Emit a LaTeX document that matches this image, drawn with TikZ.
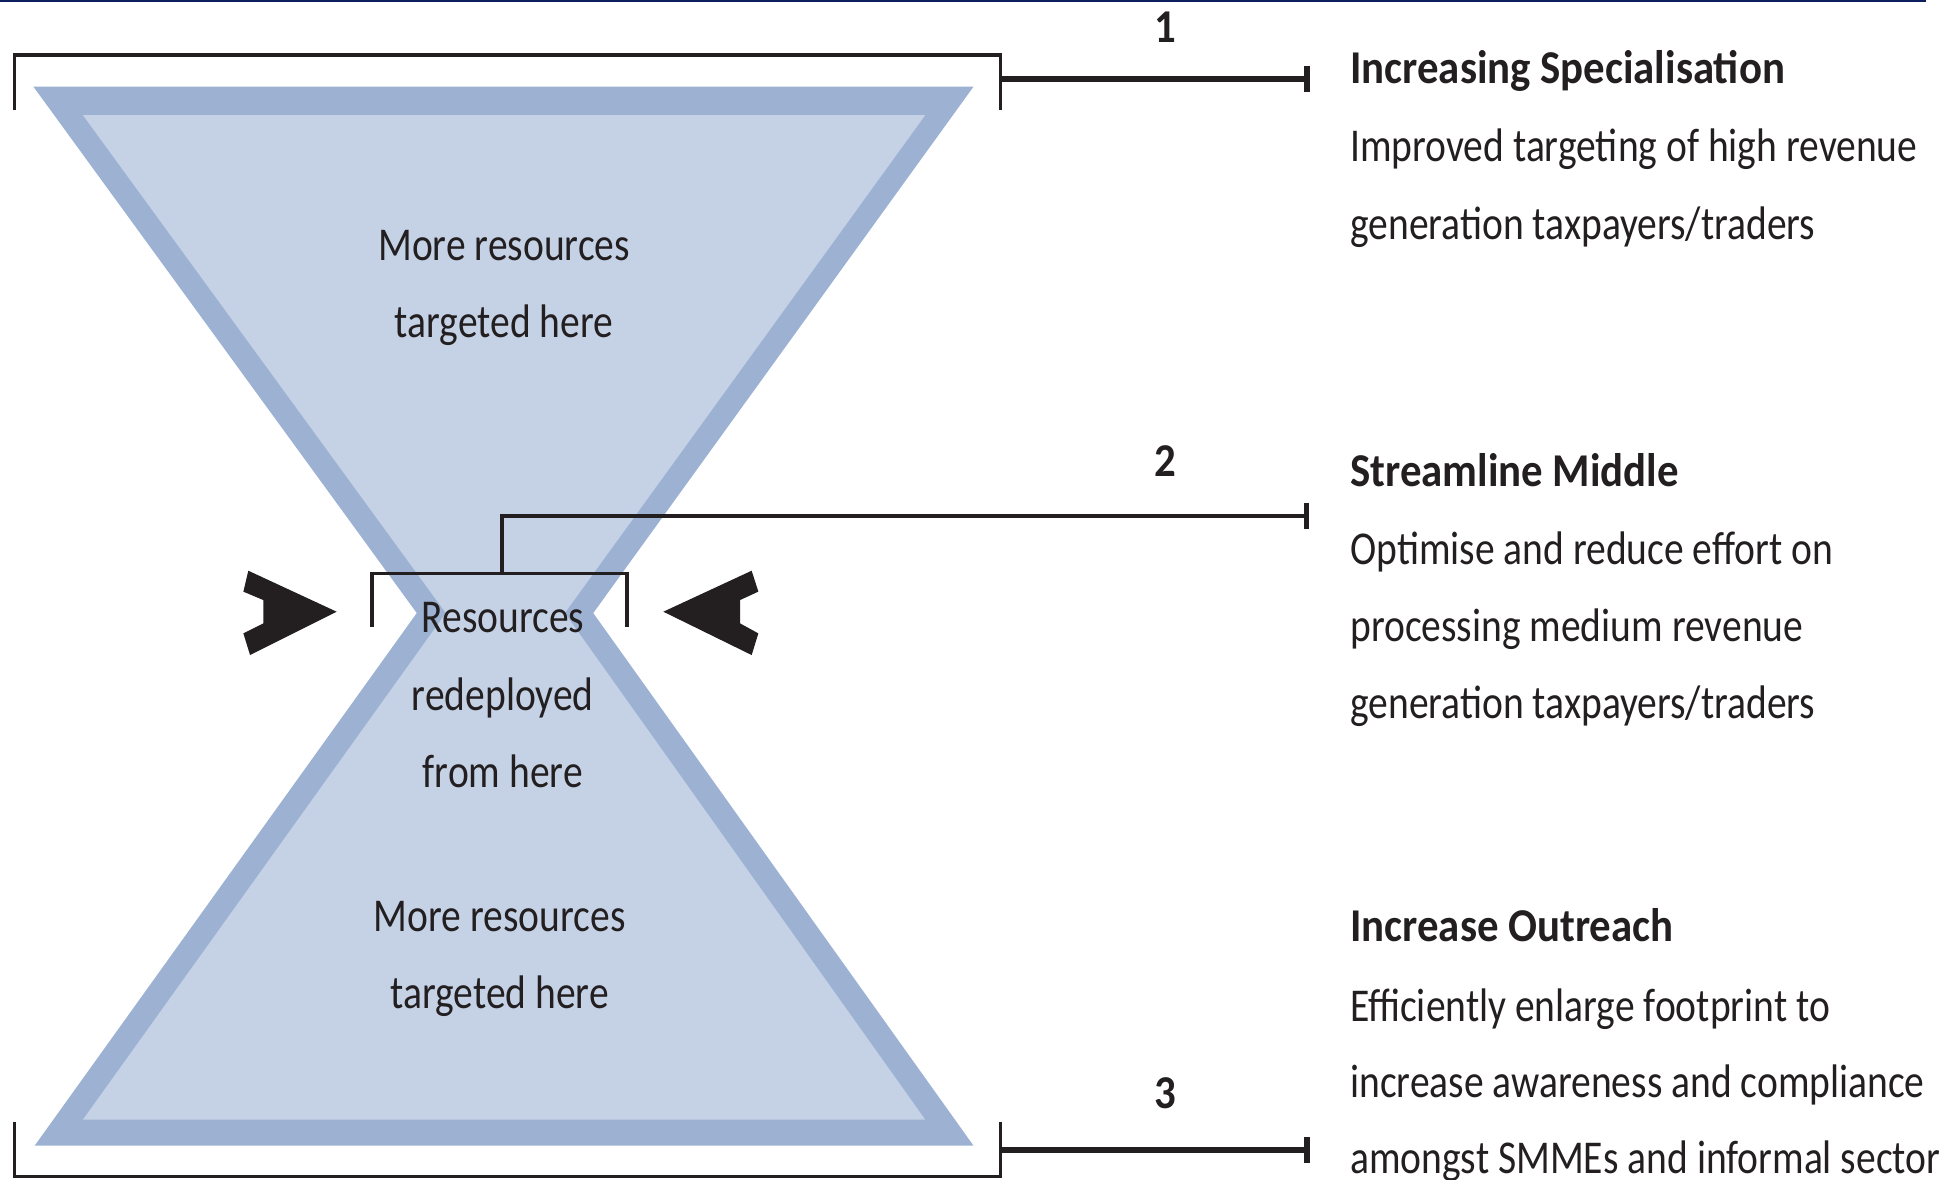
\documentclass[tikz,border=0pt]{standalone}
\usepackage{fontspec}
\setmainfont{Carlito}[FakeStretch=0.84]
\newfontfamily\headfont{Carlito}[FakeStretch=0.91]
\definecolor{navy}{HTML}{0B1F5C}
\definecolor{band}{HTML}{9DB2D3}
\definecolor{fillb}{HTML}{C5D2E6}
\definecolor{ink}{HTML}{231F20}
\tikzset{
  body/.style={inner sep=0pt, text=ink, font=\fontsize{38}{46}\selectfont},
  head/.style={inner sep=0pt, text=ink, font=\headfont\bfseries\fontsize{38}{46}\selectfont},
  num/.style={inner sep=0pt, text=ink, font=\headfont\bfseries\fontsize{38}{46}\selectfont},
  bracket/.style={draw=ink, line width=2.7pt, line join=miter},
  thickcon/.style={draw=ink, line width=5.4pt},
  thincon/.style={draw=ink, line width=3pt, line join=miter},
  tickmark/.style={draw=ink, line width=5pt},
  arrowshape/.style={fill=ink, draw=none},
}
\begin{document}
\begin{tikzpicture}[x=1pt,y=-1pt]
\useasboundingbox (0,0) rectangle (1568,952);
% top rule
\draw[navy, line width=1.8pt] (0,0.9) -- (1555,0.9);

% hourglass
\fill[band] (27,70) -- (786,70) -- (479,495) -- (786,925) -- (28,925) -- (336.5,495) -- cycle;
\fill[fillb] (67,93) -- (747,93) -- (456,495) -- (747,904) -- (67,904) -- (360,495) -- cycle;

% brackets
\coordinate (b1l) at (11.5,88.5);
\coordinate (b1r) at (808,88.5);
\draw[bracket] (b1l) -- (11.5,44.4) -- (808,44.4) -- (b1r);
\coordinate (b3l) at (11.5,906);
\coordinate (b3r) at (808,906);
\draw[bracket] (b3l) -- (11.5,950) -- (808,950) -- (b3r);
\coordinate (b2l) at (300.5,506);
\coordinate (b2r) at (506,506);
\coordinate (b2m) at (405.6,463);
\draw[thincon] (b2l) -- (300.5,463) -- (506,463) -- (b2r);

% connector ends
\coordinate (c1) at (808,63.8);
\coordinate (t1) at (1055,63.8);
\coordinate (t2) at (1055,416.5);
\coordinate (c3) at (808,928.6);
\coordinate (t3) at (1055,928.6);

\draw[thickcon] (c1) -- (t1);
\draw[tickmark] ([yshift=10.8pt]t1) -- ([yshift=-10.8pt]t1);
\draw[thincon] (b2m) |- (t2);
\draw[tickmark, line width=4.5pt] ([yshift=10.5pt]t2) -- ([yshift=-10.5pt]t2);
\draw[thickcon] (c3) -- (t3);
\draw[tickmark] ([yshift=10.5pt]t3) -- ([yshift=-10.5pt]t3);

% arrows
\fill[arrowshape] (200.5,460.8) -- (271.8,493.9) -- (201.9,528.9) -- (196.5,511.4) -- (212.6,503.3) -- (212.6,484.5) -- (196.5,477.7) -- cycle;
\fill[arrowshape] (606.9,460.8) -- (535.6,493.9) -- (606.9,528.9) -- (612.3,511.4) -- (597.5,503.3) -- (597.5,484.5) -- (612.3,477.7) -- cycle;

% numbers
\node[num] (n1) at (941,22) {1};
\node[num] (n2) at (941,372) {2};
\node[num] (n3) at (941,883) {3};

% hourglass texts
\node[body, anchor=base] (u1) at (407,210.5) {More resources};
\node[body, anchor=base] (u2) at (407,272.5) {targeted here};
\node[body, anchor=base] (m1) at (406,510.5) {Resources};
\node[body, anchor=base] (m2) at (406,573.5) {redeployed};
\node[body, anchor=base] (m3) at (406,635.5) {from here};
\node[body, anchor=base] (l1) at (403.5,752.5) {More resources};
\node[body, anchor=base] (l2) at (403.5,814.5) {targeted here};

% right texts
\node[head, anchor=base west] (h1) at (1090,67.5) {Increasing Specialisation};
\node[body, anchor=base west] (p1a) at (1090,130.5) {Improved targeting of high revenue};
\node[body, anchor=base west] (p1b) at (1090,193.5) {generation taxpayers/traders};

\node[head, anchor=base west] (h2) at (1090,392.5) {Streamline Middle};
\node[body, anchor=base west] (p2a) at (1090,455.5) {Optimise and reduce effort on};
\node[body, anchor=base west] (p2b) at (1090,518) {processing medium revenue};
\node[body, anchor=base west] (p2c) at (1090,580.5) {generation taxpayers/traders};

\node[head, anchor=base west] (h3) at (1090,760.5) {Increase Outreach};
\node[body, anchor=base west] (p3a) at (1090,824.5) {Efficiently enlarge footprint to};
\node[body, anchor=base west] (p3b) at (1090,886.5) {increase awareness and compliance};
\node[body, anchor=base west] (p3c) at (1090,947.5) {amongst SMMEs and informal sector};
\end{tikzpicture}
\end{document}
